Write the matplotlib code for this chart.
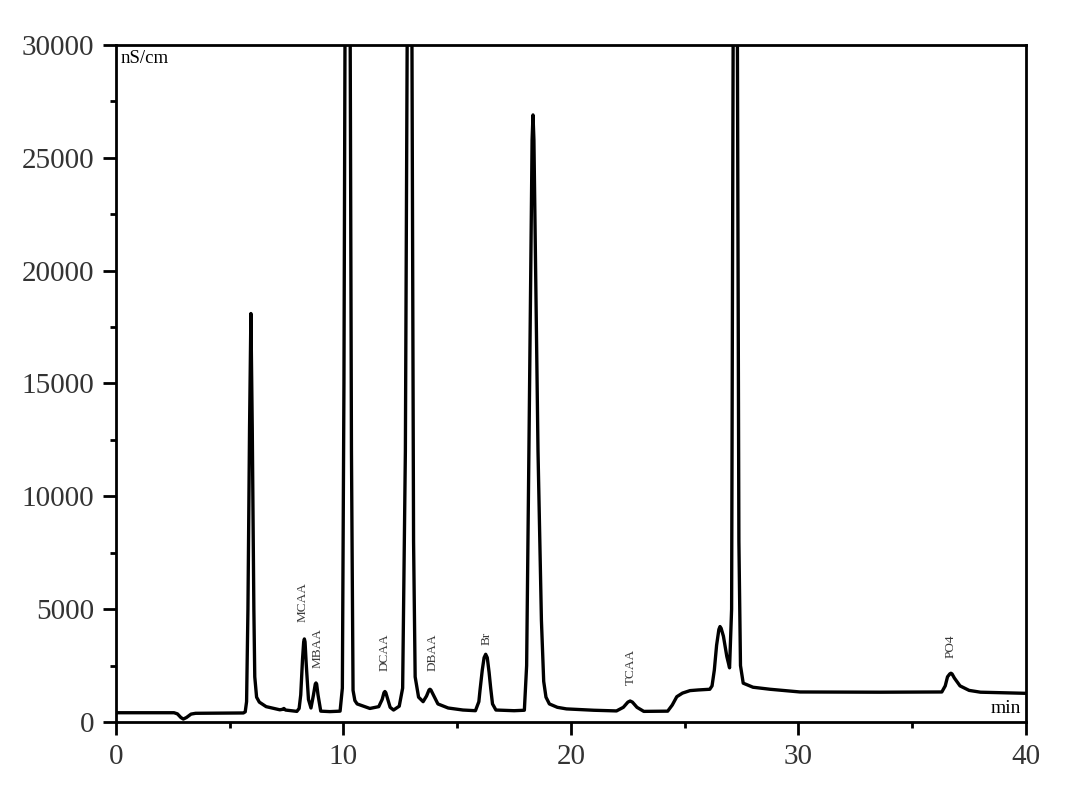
import numpy as np
import matplotlib
matplotlib.use('Agg')
import matplotlib.pyplot as plt
from matplotlib.ticker import MultipleLocator

# chromatogram trace (time in min, conductivity in nS/cm)
time_min = [0.0, 2.55, 2.7, 2.85, 2.96, 3.1, 3.3, 3.5, 5.6, 5.68, 5.74, 5.8, 5.87, 5.93, 5.99,
            6.06, 6.1, 6.18, 6.3, 6.6, 7.2, 7.32, 7.38, 7.45, 7.95, 8.05, 8.12, 8.2, 8.25, 8.28, 8.31, 8.36,
            8.46, 8.57, 8.68, 8.76, 8.79, 8.82, 8.88, 9.0, 9.4, 9.85, 9.95, 10.02, 10.08, 10.18, 10.28, 10.35,
            10.42, 10.5, 10.6, 11.16, 11.55, 11.7, 11.78, 11.82, 11.86, 11.95, 12.05, 12.2, 12.45, 12.6, 12.72,
            12.82, 12.9, 13.0, 13.08, 13.15, 13.3, 13.5, 13.65, 13.76, 13.8, 13.84, 13.95, 14.15, 14.6, 15.25,
            15.8, 15.95, 16.0, 16.1, 16.18, 16.25, 16.32, 16.4, 16.47, 16.55, 16.7, 17.5, 17.95, 18.05,
            18.15, 18.25, 18.29, 18.33, 18.37, 18.42, 18.55, 18.7, 18.8, 18.9, 19.05, 19.4, 19.8, 21.0,
            22.0, 22.3, 22.5, 22.6, 22.7, 22.9, 23.2,
            24.25, 24.45, 24.65, 24.9, 25.23, 25.6, 26.1, 26.2, 26.3, 26.4, 26.5, 26.55, 26.6, 26.7, 26.85,
            26.97, 27.06, 27.14, 27.22, 27.3, 27.38, 27.45, 27.57, 28.0, 28.75, 30.07, 33.6, 36.3,
            36.45, 36.55, 36.65, 36.7, 36.75, 36.85, 37.1, 37.5, 38.0, 40.0]
signal = [410, 410, 360, 200, 130, 200, 350, 385, 400, 450, 900, 5000, 13000, 18100, 13000,
          5000, 2000, 1100, 880, 680, 540, 560, 600, 530, 470, 600, 1200, 2800, 3550, 3680, 3550, 2600,
          1000, 620, 1200, 1680, 1730, 1680, 1200, 480, 460, 480, 1500, 15000, 35000, 60000, 35000, 12000,
          1400, 950, 800, 600, 680, 1000, 1300, 1350, 1300, 1000, 650, 530, 700, 1500, 12000,
          35000, 60000, 33000, 8000, 2000, 1100, 900, 1150, 1420, 1450, 1420, 1200, 800, 620, 530,
          500, 900, 1400, 2300, 2850, 3000, 2850, 2200, 1500, 800, 530, 500, 520, 2500,
          12000, 22000, 25800, 26900, 25800, 22000, 12000, 4500, 1800, 1100, 800, 650, 580, 520,
          490, 650, 880, 930, 880, 650, 470,
          480, 750, 1120, 1280, 1390, 1420, 1450, 1600, 2300, 3400, 4100, 4230, 4150, 3800, 2900,
          2400, 5000, 35000, 60000, 35000, 8000, 2500, 1720, 1540, 1450, 1330, 1320, 1330,
          1600, 2000, 2130, 2160, 2130, 1950, 1600, 1400, 1320, 1270]

# peak labels and where they sit
peak_names = ['MCAA', 'MBAA', 'DCAA', 'DBAA', 'Br', 'TCAA', 'PO4']
label_t = [8.22, 8.88, 11.82, 13.9, 16.27, 22.64, 36.7]
label_y = [4450, 2400, 2250, 2250, 3400, 1650, 2850]

plt.rcParams['font.family'] = ['Liberation Serif', 'DejaVu Serif']

fig = plt.figure(figsize=(10.8, 7.92), dpi=100)
ax = fig.add_axes([0.1074, 0.0884, 0.8426, 0.8548])

ax.plot(time_min, signal, color='black', lw=2.4, solid_joinstyle='round')

for name, t, y in zip(peak_names, label_t, label_y):
    ax.text(t, y, name, rotation=90, ha='center', va='bottom', fontsize=9.5, color='#3a3a3a')

ax.text(0.005, 0.992, 'nS/cm', transform=ax.transAxes, ha='left', va='top', fontsize=13.5)
ax.text(0.995, 0.008, 'min', transform=ax.transAxes, ha='right', va='bottom', fontsize=14)

ax.set_xlim(0, 40)
ax.set_ylim(0, 30000)
ax.xaxis.set_major_locator(MultipleLocator(10))
ax.xaxis.set_minor_locator(MultipleLocator(5))
ax.yaxis.set_major_locator(MultipleLocator(5000))
ax.yaxis.set_minor_locator(MultipleLocator(2500))

for s in ax.spines.values():
    s.set_linewidth(2.0)
ax.tick_params(which='major', direction='out', length=9.5, width=2.0, labelsize=21,
               labelcolor='#333333', pad=6)
ax.tick_params(which='minor', direction='out', length=4.5, width=2.0)

fig.savefig('out.png', dpi=100)
